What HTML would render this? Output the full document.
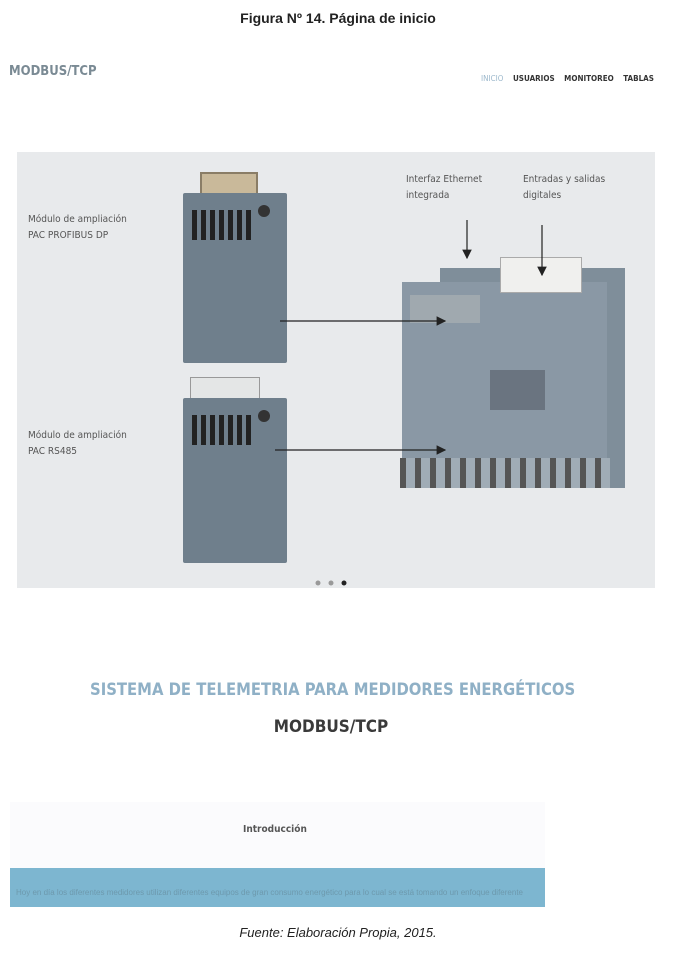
<!DOCTYPE html>
<html><head><meta charset="utf-8"><style>
*{margin:0;padding:0;box-sizing:border-box}
body{width:676px;height:957px;background:#fff;position:relative;overflow:hidden;font-family:"Liberation Sans",sans-serif}
.a{position:absolute}
.lbl{font-family:"DejaVu Sans Condensed","Liberation Sans",sans-serif;font-size:10px;color:#555;line-height:16px}
.mod{background:#6f7f8c;border-radius:2px}
</style></head><body>
<div class="a" style="top:10px;width:676px;text-align:center;font-weight:bold;font-size:14px;color:#222">Figura Nº 14. Página de inicio</div>
<div class="a" style="left:9px;top:64px;font-family:'DejaVu Sans Condensed',sans-serif;font-weight:bold;font-size:13px;color:#7a8a94">MODBUS/TCP</div>
<div class="a" style="left:481px;top:74px;font-family:'DejaVu Sans Condensed',sans-serif;font-size:8px;font-weight:bold;color:#333;word-spacing:7px"><span style="color:#9cb8cc;font-weight:normal">INICIO</span> USUARIOS MONITOREO TABLAS</div>

<div class="a" style="left:17px;top:152px;width:638px;height:436px;background:#e8eaec"></div>
<div class="a lbl" style="left:28px;top:212px">Módulo de ampliación<br>PAC PROFIBUS DP</div>
<div class="a lbl" style="left:28px;top:428px">Módulo de ampliación<br>PAC RS485</div>
<div class="a lbl" style="left:406px;top:172px">Interfaz Ethernet<br>integrada</div>
<div class="a lbl" style="left:523px;top:172px">Entradas y salidas<br>digitales</div>

<div class="a" style="left:200px;top:172px;width:58px;height:26px;background:#c9b99a;border:2px solid #8a7d66"></div>
<div class="a mod" style="left:183px;top:193px;width:104px;height:170px"></div>
<div class="a" style="left:192px;top:210px;width:62px;height:30px;background:repeating-linear-gradient(90deg,#222 0 5px,#6f7f8c 5px 9px)"></div>
<div class="a" style="left:258px;top:205px;width:12px;height:12px;border-radius:50%;background:#333"></div>
<div class="a" style="left:190px;top:377px;width:70px;height:22px;background:#e4e6e6;border:1px solid #999"></div>
<div class="a mod" style="left:183px;top:398px;width:104px;height:165px"></div>
<div class="a" style="left:192px;top:415px;width:62px;height:30px;background:repeating-linear-gradient(90deg,#222 0 5px,#6f7f8c 5px 9px)"></div>
<div class="a" style="left:258px;top:410px;width:12px;height:12px;border-radius:50%;background:#333"></div>

<div class="a" style="left:440px;top:268px;width:185px;height:220px;background:#7f8e9a"></div>
<div class="a" style="left:402px;top:282px;width:205px;height:198px;background:#8a98a5"></div>
<div class="a" style="left:410px;top:295px;width:70px;height:28px;background:#a0a9af"></div>
<div class="a" style="left:500px;top:257px;width:82px;height:36px;background:#f0f0ee;border:1px solid #aaa"></div>
<div class="a" style="left:490px;top:370px;width:55px;height:40px;background:#6a7480"></div>
<div class="a" style="left:400px;top:458px;width:210px;height:30px;background:repeating-linear-gradient(90deg,#555 0 6px,#a0acb6 6px 15px)"></div>

<svg class="a" style="left:0;top:0" width="676" height="957">
<defs><marker id="m" markerWidth="8" markerHeight="8" refX="7" refY="4" orient="auto"><path d="M0,0L8,4L0,8z" fill="#222"/></marker></defs>
<g stroke="#222" stroke-width="1.2" marker-end="url(#m)">
<line x1="280" y1="321" x2="445" y2="321"/>
<line x1="275" y1="450" x2="445" y2="450"/>
<line x1="467" y1="220" x2="467" y2="258"/>
<line x1="542" y1="225" x2="542" y2="275"/>
</g>
<circle cx="318" cy="583" r="2.5" fill="#999"/><circle cx="331" cy="583" r="2.5" fill="#999"/><circle cx="344" cy="583" r="2.5" fill="#222"/>
</svg>

<div class="a" style="top:680px;left:90px;width:482px;text-align:center;font-family:'DejaVu Sans Condensed',sans-serif;font-weight:bold;font-size:16.5px;color:#8fb0c6;white-space:nowrap">SISTEMA DE TELEMETRIA PARA MEDIDORES ENERGÉTICOS</div>
<div class="a" style="top:717px;width:662px;text-align:center;font-family:'DejaVu Sans Condensed',sans-serif;font-weight:bold;font-size:17px;color:#3a3a3a">MODBUS/TCP</div>

<div class="a" style="left:10px;top:802px;width:535px;height:66px;background:#fbfbfd"></div>
<div class="a" style="left:243px;top:824px;font-family:'DejaVu Sans Condensed',sans-serif;font-weight:bold;font-size:10px;color:#555">Introducción</div>
<div class="a" style="left:10px;top:868px;width:535px;height:39px;background:#7db6d0"></div>
<div class="a" style="left:16px;top:888px;font-size:8px;color:#6d99ad;white-space:nowrap">Hoy en día los diferentes medidores utilizan diferentes equipos de gran consumo energético para lo cual se está tomando un enfoque diferente</div>

<div class="a" style="top:925px;width:676px;text-align:center;font-style:italic;font-size:13px;color:#222">Fuente: Elaboración Propia, 2015.</div>
</body></html>
